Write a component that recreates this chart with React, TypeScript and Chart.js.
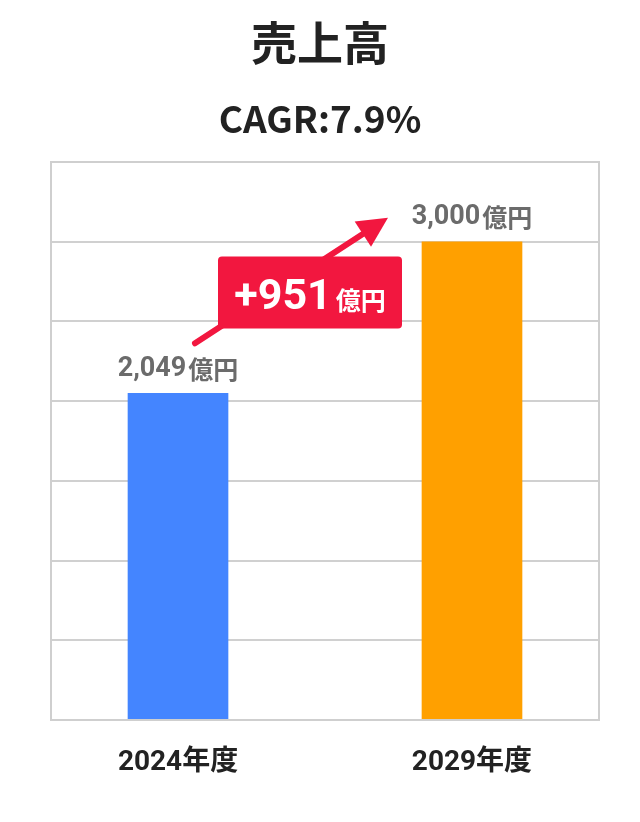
import React, { useRef, useEffect } from "react";
import { Chart, registerables } from "chart.js";

Chart.register(...registerables);

const title = "売上高";
const subtitle = "CAGR:7.9%";
const categories = ["2024年度", "2029年度"];
const sales = [2049, 3000];
const barColors = ["#4485ff", "#ffa000"];
const unit = "億円";
const diffLabel = "+951";
const yTicks = { min: 0, max: 3500, step: 500 };

const numFont = "Roboto, 'Noto Sans CJK JP', sans-serif";
const jpFont = "'Noto Sans CJK JP', sans-serif";

const decorations = {
  id: "decorations",
  afterDraw(chart: any) {
    const { ctx, chartArea } = chart;
    const bars = chart.getDatasetMeta(0).data;
    ctx.save();

    // frame
    ctx.strokeStyle = "#cfcfcf";
    ctx.lineWidth = 2;
    ctx.strokeRect(chartArea.left, chartArea.top, chartArea.right - chartArea.left, chartArea.bottom - chartArea.top);

    // titles
    ctx.textAlign = "center";
    ctx.textBaseline = "middle";
    ctx.fillStyle = "#222";
    ctx.font = `bold 46px ${jpFont}`;
    ctx.fillText(title, chart.width / 2, 43);
    ctx.font = `bold 37px ${jpFont}`;
    ctx.fillText(subtitle, chart.width / 2, 119);

    // value labels and category labels
    bars.forEach((bar: any, i: number) => {
      const num = sales[i].toLocaleString("en-US");
      ctx.font = `bold 27px ${numFont}`;
      const w1 = ctx.measureText(num).width;
      ctx.font = `bold 25px ${jpFont}`;
      const w2 = ctx.measureText(unit).width;
      const start = bar.x - (w1 + w2 + 2) / 2;
      ctx.textAlign = "left";
      ctx.fillStyle = "#6b6b6b";
      ctx.font = `bold 27px ${numFont}`;
      ctx.fillText(num, start, bar.y - 24);
      ctx.font = `bold 25px ${jpFont}`;
      ctx.fillText(unit, start + w1 + 2, bar.y - 24);

      ctx.textAlign = "center";
      ctx.fillStyle = "#222";
      ctx.font = `bold 28px ${numFont}`;
      ctx.fillText(categories[i], bar.x, chartArea.bottom + 43);
    });

    // arrow
    const b0 = bars[0];
    const b1 = bars[1];
    const tx = b0.x + 17, ty = b0.y - 50;
    const hx = b1.x - 84, hy = b1.y - 24;
    const len = Math.hypot(hx - tx, hy - ty);
    const ux = (hx - tx) / len, uy = (hy - ty) / len;
    const red = "#f2173f";
    ctx.strokeStyle = red;
    ctx.fillStyle = red;
    ctx.lineWidth = 6;
    ctx.lineCap = "round";
    ctx.beginPath();
    ctx.moveTo(tx, ty);
    ctx.lineTo(hx - ux * 25, hy - uy * 25);
    ctx.stroke();
    const bx = hx - ux * 30, by = hy - uy * 30;
    ctx.beginPath();
    ctx.moveTo(hx, hy);
    ctx.lineTo(bx - uy * 15, by + ux * 15);
    ctx.lineTo(bx + uy * 15, by - ux * 15);
    ctx.closePath();
    ctx.fill();

    // badge
    const cx = (b0.x + b1.x) / 2 - 15;
    const cy = (b0.y + b1.y) / 2 - 25;
    const bw = 184, bh = 72;
    ctx.beginPath();
    ctx.roundRect(cx - bw / 2, cy - bh / 2, bw, bh, 4);
    ctx.fill();
    ctx.fillStyle = "#fff";
    ctx.font = `bold 43px ${numFont}`;
    const dw1 = ctx.measureText(diffLabel).width;
    ctx.font = `bold 25px ${jpFont}`;
    const dw2 = ctx.measureText(unit).width;
    const ds = cx - (dw1 + dw2 + 4) / 2;
    ctx.textAlign = "left";
    ctx.textBaseline = "alphabetic";
    ctx.font = `bold 43px ${numFont}`;
    ctx.fillText(diffLabel, ds, cy + 16);
    ctx.font = `bold 25px ${jpFont}`;
    ctx.fillText(unit, ds + dw1 + 4, cy + 17);

    ctx.restore();
  },
};

const App = () => {
  const chartRef = useRef<any>(null);
  const chartInstanceRef = useRef<any>(null);

  useEffect(() => {
    document.body.style.margin = "0";
    const ctx = chartRef.current.getContext("2d");
    if (chartInstanceRef.current) {
      chartInstanceRef.current.destroy();
    }

    chartInstanceRef.current = new Chart(ctx, {
      type: "bar",
      data: {
        datasets: [
          {
            data: sales.map((v, i) => ({ x: i, y: v })),
            backgroundColor: barColors,
            barThickness: 100,
          },
        ],
      },
      options: {
        responsive: false,
        animation: false,
        layout: { padding: { top: 162, left: 51, right: 41, bottom: 94 } },
        plugins: {
          legend: { display: false },
          tooltip: { enabled: false },
        },
        scales: {
          x: {
            type: "linear",
            min: -0.432,
            max: 1.432,
            offset: false,
            ticks: { display: false },
            grid: { display: false, offset: false },
            border: { display: false },
          },
          y: {
            min: yTicks.min,
            max: yTicks.max,
            ticks: { display: false, stepSize: yTicks.step },
            grid: { color: "#d0d0d0", lineWidth: 2, drawTicks: false },
            border: { display: false },
          },
        },
      },
      plugins: [decorations],
    });

    return () => {
      if (chartInstanceRef.current) {
        chartInstanceRef.current.destroy();
      }
    };
  }, []);

  return <canvas ref={chartRef} width={640} height={822} style={{ display: "block" }} />;
};

export default App;
